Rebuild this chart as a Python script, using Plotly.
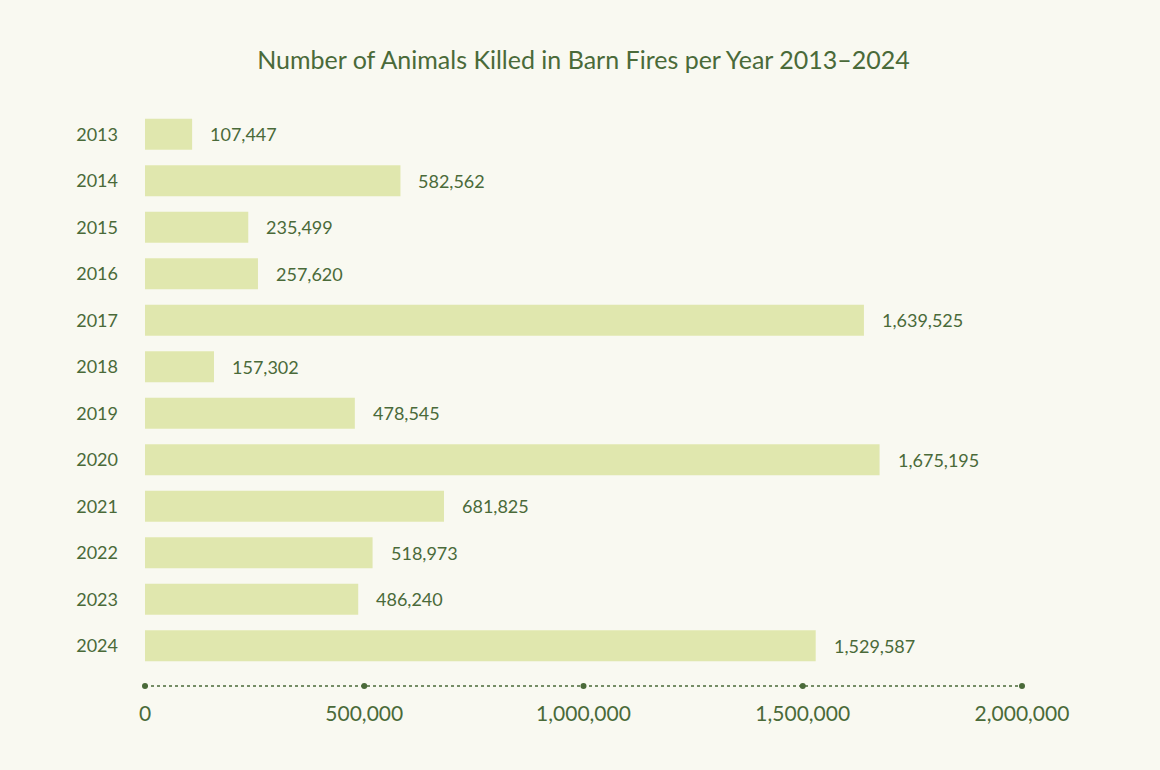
import plotly.graph_objects as go

years = ["2013", "2014", "2015", "2016", "2017", "2018", "2019", "2020", "2021", "2022", "2023", "2024"]
animals = [107447, 582562, 235499, 257620, 1639525, 157302, 478545, 1675195, 681825, 518973, 486240, 1529587]
tick_values = [0, 500000, 1000000, 1500000, 2000000]
tick_labels = ["0", "500,000", "1,000,000", "1,500,000", "2,000,000"]

TEXT = "#4a6a39"
BAR = "#e0e7ae"
BG = "#f9f9f1"
FONT = "Lato"

pos = list(range(len(years)))

fig = go.Figure()
fig.add_trace(go.Bar(
    x=animals, y=pos, orientation="h",
    marker=dict(color=BAR, line=dict(width=0)),
    hoverinfo="skip", showlegend=False,
))

# value labels
for p, v in zip(pos, animals):
    fig.add_annotation(x=v, y=p, text=f"{v:,}", showarrow=False,
                       xanchor="left", yanchor="middle", xshift=16,
                       font=dict(family=FONT, size=18, color=TEXT))

# dotted axis line with tick dots
fig.add_shape(type="line", xref="x", yref="paper", x0=0, x1=tick_values[-1], y0=0, y1=0,
              line=dict(color=TEXT, width=1.3, dash="dot"))
fig.add_trace(go.Scatter(
    x=tick_values, y=[0] * len(tick_values), yaxis="y2", mode="markers",
    marker=dict(color=TEXT, size=6), cliponaxis=False, hoverinfo="skip", showlegend=False,
))

fig.update_layout(
    width=1160, height=770,
    paper_bgcolor=BG, plot_bgcolor=BG,
    margin=dict(l=145, r=138, t=111, b=84),
    bargap=0.33,
    title=dict(text="Number of Animals Killed in Barn Fires per Year 2013–2024",
               x=0.5, xanchor="center", xref="paper", y=1 - 60 / 770, yanchor="middle",
               font=dict(family=FONT, size=25, color=TEXT)),
    xaxis=dict(range=[0, 2000000], tickvals=tick_values, ticktext=tick_labels,
               showgrid=False, zeroline=False, showline=False, ticks="",
               ticklabelstandoff=13,
               tickfont=dict(family=FONT, size=21, color=TEXT)),
    yaxis=dict(range=[11.866, -0.5], tickvals=pos, ticktext=years,
               showgrid=False, zeroline=False, showline=False, ticks="",
               ticklabelstandoff=26,
               tickfont=dict(family=FONT, size=18, color=TEXT)),
    yaxis2=dict(range=[0, 1], overlaying="y", visible=False),
)

fig.write_html("out.html", config={"displayModeBar": False},
               post_script="document.body.style.margin='0';document.body.style.background='" + BG + "';")
